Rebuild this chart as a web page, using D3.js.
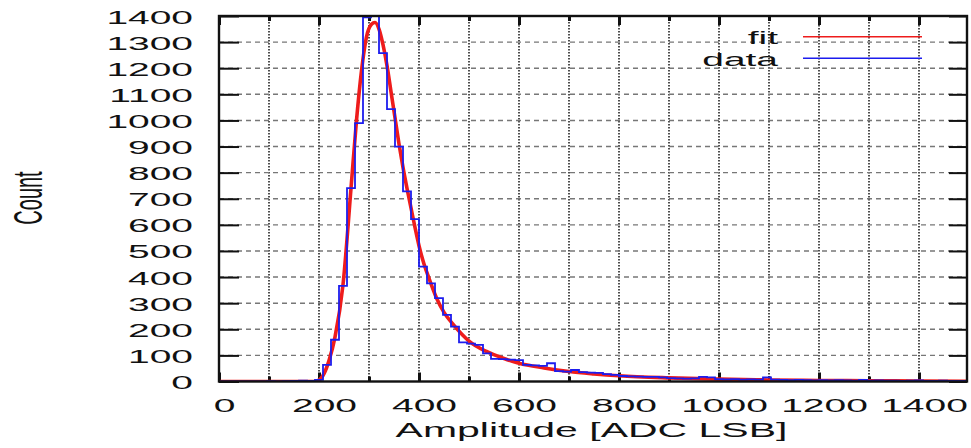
<!DOCTYPE html>
<html lang="en">
<head>
  <meta charset="UTF-8">
  <title>Amplitude histogram</title>
  <script src="https://cdn.jsdelivr.net/npm/d3@7"></script>
  <style>
    body { margin: 0; background: #fff; }
    text { font-family: "Liberation Sans", Arial, sans-serif; fill: #111; }
  </style>
</head>
<body>
  <svg width="971" height="448"></svg>
  <script>
    // histogram: bins of 16 ADC starting at 0
    var binWidth = 16;
    var counts = [
      0, 0, 0, 0, 0, 0, 1, 0, 1, 2, 3, 2, 6,
      64, 160, 366, 741, 990, 1395, 1400, 1258, 1043, 900, 728, 622,
      440, 376, 319, 255, 210, 150, 145, 140, 108, 87, 86, 84, 82, 64, 62, 60, 70, 40,
      38, 44, 36, 34, 33, 28, 25, 21, 20, 19, 18, 18, 16, 13, 12, 11, 12, 18, 16,
      9, 8, 9, 7, 8, 7, 16, 7, 6, 5, 6, 5, 4, 5, 4, 5, 4, 3, 6, 3, 4, 3, 3, 2, 3,
      4, 2, 2, 3, 2, 2, 2
    ];

    // fit curve
    var fitX = [0, 190, 200, 210, 220, 232, 248, 264, 275, 285, 295, 305, 312, 320, 328, 336,
      344, 352, 360, 368, 376, 384, 392, 400, 410, 420, 435, 450, 470, 500, 535, 570, 600,
      650, 700, 750, 800, 900, 1000, 1100, 1200, 1300, 1400, 1496];
    var fitY = [0, 0, 5, 30, 80, 170, 370, 740, 1000, 1190, 1320, 1368, 1375, 1350, 1290, 1210,
      1110, 1010, 910, 820, 740, 665, 590, 520, 450, 395, 320, 265, 215, 155, 115, 88, 70,
      52, 38, 29, 22, 14, 9, 6, 4, 3, 2, 1];

    var yTicks = d3.range(0, 1401, 100);
    var xMajor = [0, 200, 400, 600, 800, 1000, 1200, 1400];
    var xMinor = [100, 300, 500, 700, 900, 1100, 1300];
    var seriesNames = ['fit', 'data'];
    var seriesColors = ['#ee1c1c', '#1c1cee'];

    var svg = d3.select('svg');
    var pLeft = 219, pRight = 967, pTop = 16, pBottom = 381.5;
    var sx = 2.05; // glyph stretch

    var x = d3.scaleLinear().domain([0, 1496]).range([pLeft, pRight]);
    var y = d3.scaleLinear().domain([0, 1400]).range([pBottom, pTop]);

    svg.append('defs').append('clipPath').attr('id', 'plot')
      .append('rect').attr('x', pLeft).attr('y', pTop - 1)
      .attr('width', pRight - pLeft).attr('height', pBottom - pTop + 1);

    // grid
    svg.append('g').selectAll('line').data(xMajor.concat(xMinor).filter(function(d) { return d > 0; }))
      .enter().append('line')
      .attr('x1', function(d) { return x(d); }).attr('x2', function(d) { return x(d); })
      .attr('y1', pTop).attr('y2', pBottom)
      .attr('stroke', '#222').attr('stroke-width', 1.6).attr('stroke-dasharray', '1.5,1.5');
    svg.append('g').selectAll('line').data(yTicks.filter(function(d) { return d > 0 && d < 1400; }))
      .enter().append('line')
      .attr('x1', pLeft).attr('x2', pRight)
      .attr('y1', function(d) { return y(d); }).attr('y2', function(d) { return y(d); })
      .attr('stroke', '#777').attr('stroke-width', 1.4).attr('stroke-dasharray', '5,4');

    // axes (ticks inward)
    var gLeft = svg.append('g').attr('transform', 'translate(' + pLeft + ',0)')
      .call(d3.axisLeft(y).tickValues(yTicks).tickSize(-20).tickFormat(d3.format('d')));
    var gRight = svg.append('g').attr('transform', 'translate(' + pRight + ',0)')
      .call(d3.axisRight(y).tickValues(yTicks).tickSize(-18).tickFormat(''));
    var gBottom = svg.append('g').attr('transform', 'translate(0,' + pBottom + ')')
      .call(d3.axisBottom(x).tickValues(xMajor).tickSize(-9).tickFormat(d3.format('d')));
    svg.append('g').attr('transform', 'translate(0,' + pBottom + ')')
      .call(d3.axisBottom(x).tickValues(xMinor).tickSize(-5).tickFormat(''));
    svg.append('g').attr('transform', 'translate(0,' + pTop + ')')
      .call(d3.axisTop(x).tickValues(xMajor).tickSize(-9).tickFormat(''));
    svg.append('g').attr('transform', 'translate(0,' + pTop + ')')
      .call(d3.axisTop(x).tickValues(xMinor).tickSize(-5).tickFormat(''));

    svg.selectAll('.domain').remove();
    svg.selectAll('.tick line').attr('stroke', '#111').attr('stroke-width', 3);
    gLeft.selectAll('.tick line').attr('stroke-width', 2);
    gRight.selectAll('.tick line').attr('stroke-width', 2);

    gLeft.selectAll('.tick text')
      .attr('x', null).attr('dy', null)
      .attr('font-size', 19).attr('text-anchor', 'end')
      .attr('transform', 'translate(-26,7) scale(' + sx + ',1)');
    gBottom.selectAll('.tick text')
      .attr('y', null).attr('dy', null)
      .attr('font-size', 19).attr('text-anchor', 'middle')
      .attr('transform', 'translate(5,30) scale(' + sx + ',1)');

    // fit curve and histogram
    var plot = svg.append('g').attr('clip-path', 'url(#plot)');

    var edges = counts.map(function(c, i) { return { v: i * binWidth, c: c }; });
    edges.push({ v: counts.length * binWidth, c: counts[counts.length - 1] });

    plot.append('path')
      .attr('fill', 'none').attr('stroke', seriesColors[0]).attr('stroke-width', 3.6)
      .attr('stroke-linejoin', 'round')
      .attr('d', d3.line()
        .x(function(d, i) { return x(fitX[i]); })
        .y(function(d) { return y(d); })
        .curve(d3.curveMonotoneX)(fitY));

    plot.append('path')
      .attr('fill', 'none').attr('stroke', seriesColors[1]).attr('stroke-width', 1.8)
      .attr('d', d3.line()
        .x(function(d) { return x(d.v); })
        .y(function(d) { return y(d.c); })
        .curve(d3.curveStepAfter)(edges));

    // border
    svg.append('rect')
      .attr('x', pLeft).attr('y', pTop)
      .attr('width', pRight - pLeft).attr('height', pBottom - pTop)
      .attr('fill', 'none').attr('stroke', '#111').attr('stroke-width', 2.4);

    // legend
    var legend = svg.append('g').selectAll('g').data(seriesNames).enter().append('g')
      .attr('transform', function(d, i) { return 'translate(0,' + (36.7 + i * 21.6) + ')'; });
    legend.append('line')
      .attr('x1', 803).attr('x2', 922)
      .attr('stroke', function(d, i) { return seriesColors[i]; })
      .attr('stroke-width', 1.6);
    legend.append('text')
      .attr('font-size', 19).attr('text-anchor', 'end')
      .attr('transform', 'translate(778,7.5) scale(' + sx + ',1)')
      .text(function(d) { return d; });

    // axis titles
    svg.append('text')
      .attr('font-size', 20).attr('text-anchor', 'middle')
      .attr('transform', 'translate(591.5,436.7) scale(' + sx + ',1)')
      .text('Amplitude [ADC LSB]');
    svg.append('text')
      .attr('font-size', 20).attr('text-anchor', 'middle')
      .attr('transform', 'translate(42,198) scale(' + sx + ',1) rotate(-90)')
      .text('Count');
  </script>
</body>
</html>
